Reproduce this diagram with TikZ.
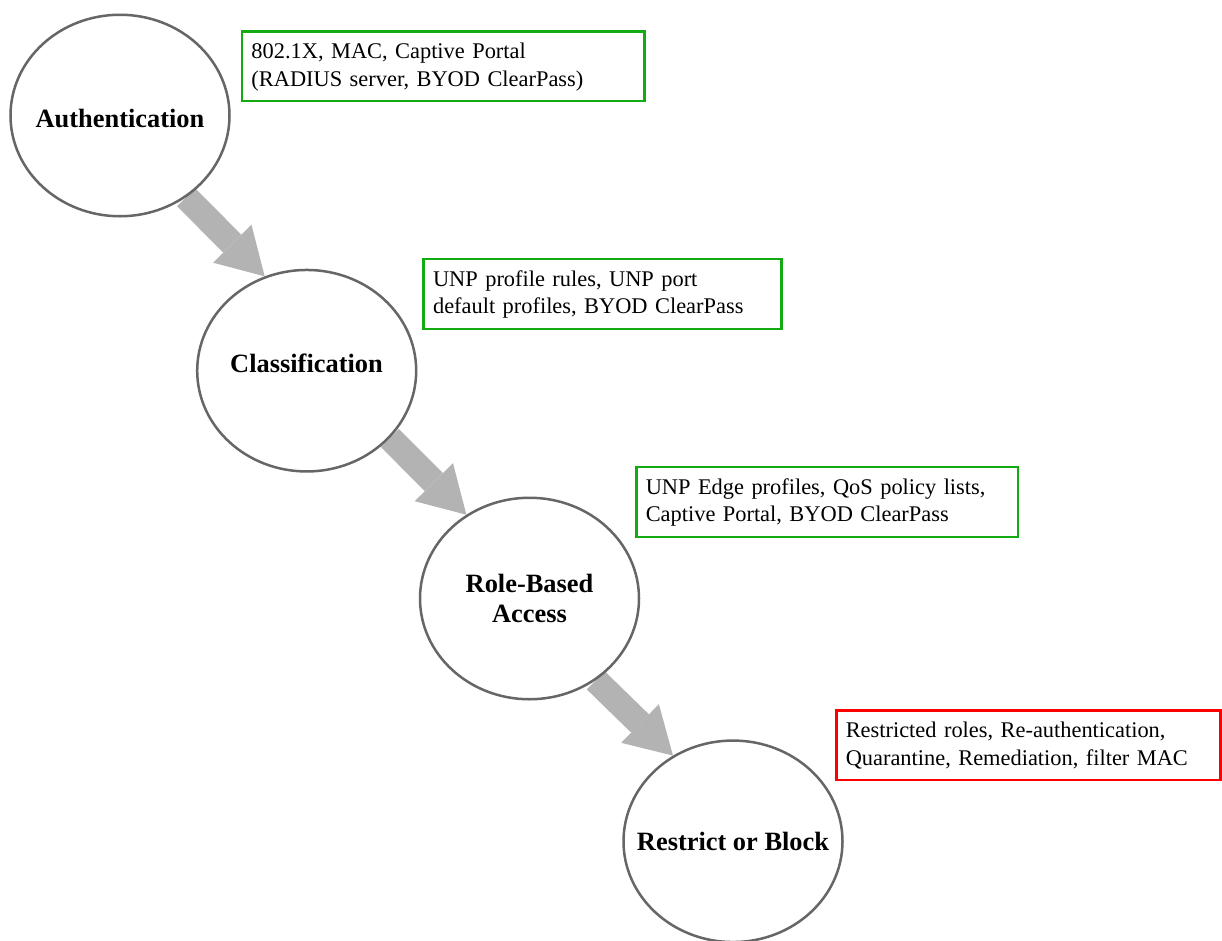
\documentclass[tikz,border=0pt]{standalone}
\usepackage{fontspec}
\setmainfont{Liberation Serif}
\usetikzlibrary{shapes.geometric,arrows.meta,backgrounds}
\definecolor{boxgreen}{RGB}{20,170,20}
\definecolor{boxred}{RGB}{255,0,0}
\definecolor{ringgray}{RGB}{102,102,102}
\definecolor{flowgray}{RGB}{179,179,179}
\begin{document}
\begin{tikzpicture}[x=1pt,y=-1pt,
  stage/.style={ellipse, draw=ringgray, line width=2.5pt, fill=white,
    minimum width=219pt, minimum height=201.5pt, inner sep=0pt},
  stagelabel/.style={font=\fontsize{26.4}{30}\selectfont\bfseries, align=center, inner sep=0pt},
  infobox/.style={draw=#1, line width=2.5pt, anchor=north west, align=left,
    inner xsep=9.5pt, inner ysep=0pt, text height=27.5pt, text depth=42.4pt,
    font=\fontsize{22.4}{27.4}\selectfont},
  flow/.style={line width=25.5pt, draw=flowgray,
    -{Triangle[length=46pt 0 0, width=54pt 0 0, line width=0pt]}}
]
\useasboundingbox (0,0) rectangle (1222,940);

% stages
\node[stage] (c1) at (120,115.5) {};
\node[stage] (c2) at (306.7,370.7) {};
\node[stage] (c3) at (529.5,598.5) {};
\node[stage] (c4) at (733,841.3) {};

\node[stagelabel, anchor=base] (l1) at (120,127.7) {Authentication};
\node[stagelabel, anchor=base] (l2) at (306.5,372.7) {Classification};
\node[stagelabel] (l3) at (529.5,598.3) {Role-Based\\Access};
\node[stagelabel, anchor=base] (l4) at (733,850.7) {Restrict or Block};

% info boxes
\node[infobox=boxgreen, text width=383.3pt] (b1) at (240.7,30)
  {802.1X, MAC, Captive Portal\\(RADIUS server, BYOD ClearPass)};
\node[infobox=boxgreen, text width=338.7pt] (b2) at (422.3,257.7)
  {UNP profile rules, UNP port\\default profiles, BYOD ClearPass};
\node[infobox=boxgreen, text width=362.7pt] (b3) at (635,465.7)
  {UNP Edge profiles, QoS policy lists,\\Captive Portal, BYOD ClearPass};
\node[infobox=boxred, text width=365pt] (b4) at (835,709)
  {Restricted roles, Re-authentication,\\Quarantine, Remediation, filter MAC};

% flow arrows
\begin{scope}[on background layer]
  \draw[flow] (c1.-51.4) -- (c2.114.8);
  \draw[flow] (c2.-39.6) -- (c3.127.7);
  \draw[flow] (c3.-51.2) -- (c4.125.9);
\end{scope}
\end{tikzpicture}
\end{document}
